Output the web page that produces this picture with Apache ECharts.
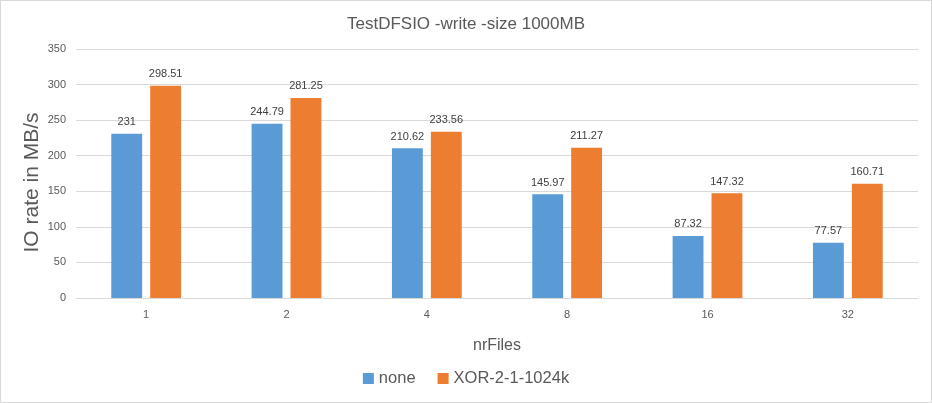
<!DOCTYPE html>
<html><head><meta charset="utf-8">
<script src="https://cdn.jsdelivr.net/npm/echarts@6/dist/echarts.min.js"></script>
<style>html,body{margin:0;padding:0;background:#fff}#c{width:932px;height:403px;box-sizing:border-box;border:1px solid #d9d9d9}</style>
</head><body><div id="c"></div>
<script>
const categories = ['1','2','4','8','16','32'];
const noneValues = [231, 244.79, 210.62, 145.97, 87.32, 77.57];
const xorValues = [298.51, 281.25, 233.56, 211.27, 147.32, 160.71];
const seriesNames = ['none', 'XOR-2-1-1024k'];
const font = 'Liberation Sans';
const chart = echarts.init(document.getElementById('c'));
const labelCfg = {show: true, position: 'top', distance: 6, color: '#404040', fontSize: 11, fontFamily: font};
chart.setOption({
  animation: false,
  title: {text: 'TestDFSIO -write -size 1000MB', left: 'center', top: 10,
    textStyle: {fontFamily: font, fontSize: 17, fontWeight: 'normal', color: '#595959'}},
  grid: {left: 75, right: 13, top: 48, bottom: 104},
  legend: {bottom: 10, left: 'center', itemWidth: 11, itemHeight: 11, itemGap: 22,
    icon: 'rect', textStyle: {fontFamily: font, fontSize: 16.5, color: '#595959'}},
  xAxis: {type: 'category', data: categories, name: 'nrFiles', nameLocation: 'middle', nameGap: 40,
    nameTextStyle: {fontFamily: font, fontSize: 16, color: '#595959'},
    axisLine: {lineStyle: {color: '#d9d9d9'}}, axisTick: {show: false},
    axisLabel: {fontFamily: font, fontSize: 11, color: '#595959', margin: 11}},
  yAxis: {type: 'value', min: 0, max: 350, interval: 50, name: 'IO rate in MB/s', nameLocation: 'middle', nameGap: 33,
    nameMoveOverlap: false,
    nameTextStyle: {fontFamily: font, fontSize: 21, color: '#595959', padding: [0, 18, 0, 0]},
    axisLine: {show: false}, axisTick: {show: false},
    axisLabel: {fontFamily: font, fontSize: 11, color: '#595959', margin: 10},
    splitLine: {lineStyle: {color: '#d9d9d9'}}},
  series: [
    {name: seriesNames[0], type: 'bar', data: noneValues, barWidth: '22%', barGap: '26%',
      itemStyle: {color: '#5b9bd5'}, label: labelCfg},
    {name: seriesNames[1], type: 'bar', data: xorValues, barWidth: '22%', barGap: '26%',
      itemStyle: {color: '#ed7d31'}, label: labelCfg}
  ]
});
</script></body></html>
